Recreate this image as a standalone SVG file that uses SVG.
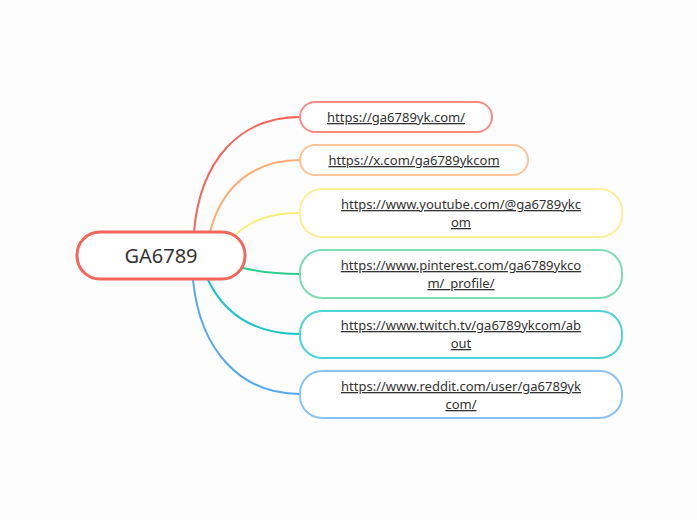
<svg xmlns="http://www.w3.org/2000/svg" width="697" height="520" viewBox="0 0 697 520">
<style>
.n{fill:#fff;stroke-width:2}
.t{font-family:"Noto Sans",sans-serif;font-size:13px;fill:#333;text-anchor:middle;text-decoration:underline}
.c{fill:none;stroke-width:2}
</style>
<rect width="697" height="520" fill="#fdfdfd"/>
<g id="connectors">
<path class="c" stroke="#f4665c" d="M194,232 C200,160 240,117 300,117"/>
<path class="c" stroke="#fdae74" d="M210,232 C222,185 255,160 300,160"/>
<path class="c" stroke="#f9ee7a" d="M232,238 C250,220 270,213 300,213"/>
<path class="c" stroke="#2ecc8f" d="M243,268 C260,272 280,274 300,274"/>
<path class="c" stroke="#17c4c9" d="M208,280 C225,315 255,334 300,334"/>
<path class="c" stroke="#54a8f2" d="M193,280 C200,350 240,394 300,394"/>
</g>
<g id="center">
<rect x="77" y="232" width="168" height="47" rx="23" fill="#fff" stroke="#f4665c" stroke-width="3"/>
<text x="161" y="263" font-family="'Noto Sans',sans-serif" font-size="20" fill="#333" text-anchor="middle">GA6789</text>
</g>
<g id="n1"><rect class="n" x="300" y="102" width="192" height="30" rx="15" stroke="#f88b86"/><text class="t" x="396" y="122">https://ga6789yk.com/</text></g>
<g id="n2"><rect class="n" x="300" y="145" width="228" height="30" rx="15" stroke="#fdc39a"/><text class="t" x="414" y="165">https://x.com/ga6789ykcom</text></g>
<g id="n3"><rect class="n" x="300" y="189" width="322" height="48" rx="22" stroke="#fbef9a"/><text class="t" x="461" y="209">https://www.youtube.com/@ga6789ykc</text><text class="t" x="461" y="227">om</text></g>
<g id="n4"><rect class="n" x="300" y="250" width="322" height="48" rx="22" stroke="#7ddcb4"/><text class="t" x="461" y="270">https://www.pinterest.com/ga6789ykco</text><text class="t" x="461" y="288">m/_profile/</text></g>
<g id="n5"><rect class="n" x="300" y="311" width="322" height="47" rx="22" stroke="#4dd4d9"/><text class="t" x="461" y="330">https://www.twitch.tv/ga6789ykcom/ab</text><text class="t" x="461" y="348">out</text></g>
<g id="n6"><rect class="n" x="300" y="371" width="322" height="47" rx="22" stroke="#8cc3f5"/><text class="t" x="461" y="391">https://www.reddit.com/user/ga6789yk</text><text class="t" x="461" y="409">com/</text></g>
</svg>
